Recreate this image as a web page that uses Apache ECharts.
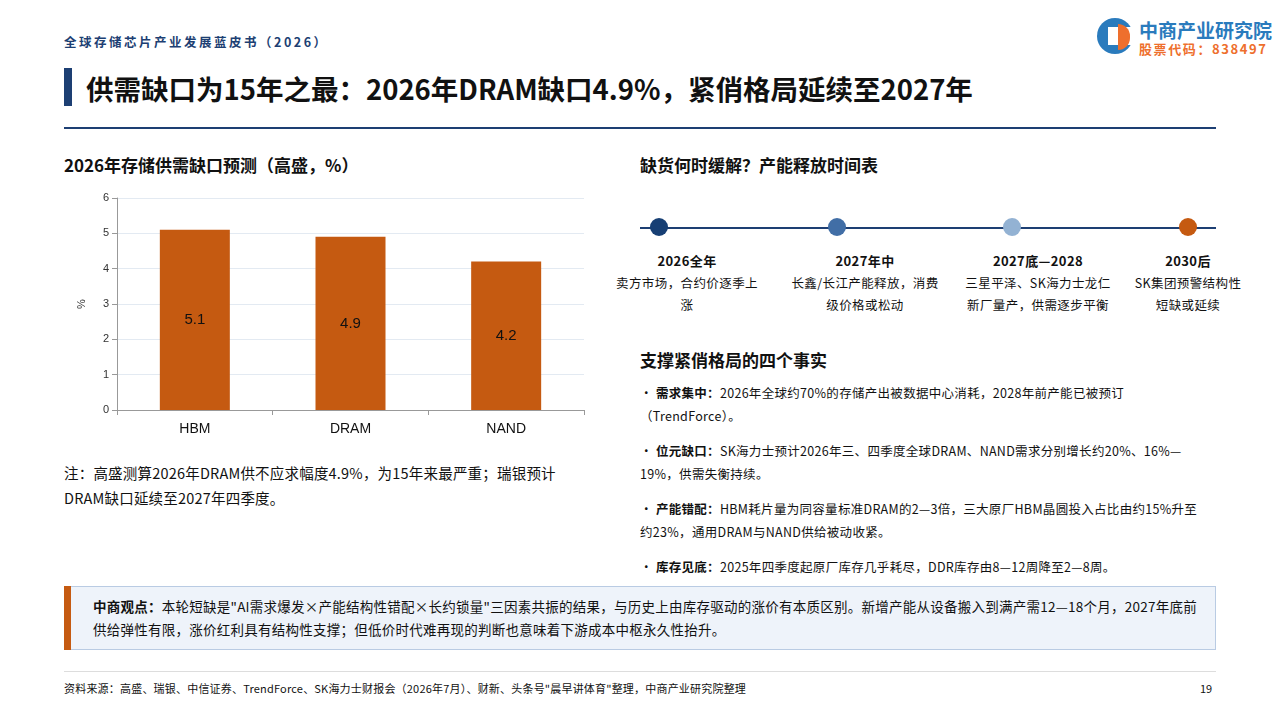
<!DOCTYPE html>
<html><head><meta charset="utf-8">
<script src="https://cdn.jsdelivr.net/npm/echarts@6/dist/echarts.min.js"></script>
<style>
body{margin:0;width:1280px;height:720px;position:relative;background:#fff;font-family:"Noto Sans CJK SC","Noto Sans",sans-serif;color:#111;overflow:hidden}
.abs{position:absolute}
.tl-item{position:absolute;width:160px;text-align:center;font-size:12.5px;line-height:22px;top:250px;letter-spacing:0.4px}
.tl-item b{font-size:13px}
.dot{position:absolute;width:18px;height:18px;border-radius:50%;top:218px}
.fact{font-size:12.5px;line-height:23px;left:640px;width:565px;letter-spacing:0.3px}
</style></head><body>
<div class="abs" style="left:64px;top:32px;font-size:12.5px;font-weight:bold;color:#1d3f73;letter-spacing:2.5px">全球存储芯片产业发展蓝皮书（2026）</div>
<div class="abs" style="left:1097px;top:18px;width:36px;height:36px;border-radius:50%;background:#2a7bbd"></div>
<div class="abs" style="left:1108px;top:27px;width:25px;height:18px;background:#fff"></div>
<div class="abs" style="left:1118px;top:24px;width:12px;height:26px;background:#ee6f2d;border-radius:0 12px 12px 0"></div>
<div class="abs" style="left:1139px;top:16px;font-size:19px;font-weight:bold;color:#2a7bbd">中商产业研究院</div>
<div class="abs" style="left:1139px;top:39px;font-size:13px;font-weight:bold;color:#ee6f2d;letter-spacing:1.6px">股票代码：838497</div>
<div class="abs" style="left:64px;top:68px;width:8px;height:38px;background:#1d3f73"></div>
<div class="abs" style="left:86px;top:68px;font-size:27.5px;font-weight:bold">供需缺口为15年之最：2026年DRAM缺口4.9%，紧俏格局延续至2027年</div>
<div class="abs" style="left:64px;top:127px;width:1152px;height:2px;background:#1d3f73"></div>
<div class="abs" style="left:64px;top:152px;font-size:17px;font-weight:bold">2026年存储供需缺口预测（高盛，%）</div>
<div id="chart" class="abs" style="left:64px;top:185px;width:530px;height:265px"></div>
<div class="abs" style="left:64px;top:460px;width:525px;font-size:14.5px;line-height:25px;letter-spacing:0.2px">注：高盛测算2026年DRAM供不应求幅度4.9%，为15年来最严重；瑞银预计DRAM缺口延续至2027年四季度。</div>

<div class="abs" style="left:640px;top:152px;font-size:17px;font-weight:bold">缺货何时缓解？产能释放时间表</div>
<div class="abs" style="left:640px;top:227px;width:576px;height:2px;background:#1d3f73"></div>
<div class="dot" style="left:650px;background:#173f74"></div>
<div class="dot" style="left:828px;background:#416ea6"></div>
<div class="dot" style="left:1003px;background:#93b2d3"></div>
<div class="dot" style="left:1179px;background:#c55a11"></div>
<div class="tl-item" style="left:607px"><b>2026全年</b><br>卖方市场，合约价逐季上<br>涨</div>
<div class="tl-item" style="left:785px"><b>2027年中</b><br>长鑫/长江产能释放，消费<br>级价格或松动</div>
<div class="tl-item" style="left:958px"><b>2027底—2028</b><br>三星平泽、SK海力士龙仁<br>新厂量产，供需逐步平衡</div>
<div class="tl-item" style="left:1108px;width:160px"><b>2030后</b><br>SK集团预警结构性<br>短缺或延续</div>

<div class="abs" style="left:640px;top:347px;font-size:17px;font-weight:bold">支撑紧俏格局的四个事实</div>
<div class="abs fact" style="top:381px">· <b>需求集中：</b>2026年全球约70%的存储产出被数据中心消耗，2028年前产能已被预订（TrendForce）。</div>
<div class="abs fact" style="top:439px">· <b>位元缺口：</b>SK海力士预计2026年三、四季度全球DRAM、NAND需求分别增长约20%、16%—19%，供需失衡持续。</div>
<div class="abs fact" style="top:497px">· <b>产能错配：</b>HBM耗片量为同容量标准DRAM的2—3倍，三大原厂HBM晶圆投入占比由约15%升至约23%，通用DRAM与NAND供给被动收紧。</div>
<div class="abs fact" style="top:555px">· <b>库存见底：</b>2025年四季度起原厂库存几乎耗尽，DDR库存由8—12周降至2—8周。</div>

<div class="abs" style="left:64px;top:586px;width:1152px;height:64px;background:#eef3fa;border:1px solid #b9cbe3;box-sizing:border-box"></div>
<div class="abs" style="left:64px;top:586px;width:7px;height:64px;background:#c55a11"></div>
<div class="abs" style="left:93px;top:595px;width:1110px;font-size:13.5px;line-height:23px;letter-spacing:0.25px"><b>中商观点：</b>本轮短缺是"AI需求爆发×产能结构性错配×长约锁量"三因素共振的结果，与历史上由库存驱动的涨价有本质区别。新增产能从设备搬入到满产需12—18个月，2027年底前供给弹性有限，涨价红利具有结构性支撑；但低价时代难再现的判断也意味着下游成本中枢永久性抬升。</div>
<div class="abs" style="left:64px;top:671px;width:1152px;height:1px;background:#ddd"></div>
<div class="abs" style="left:64px;top:680px;font-size:11px;letter-spacing:0.2px">资料来源：高盛、瑞银、中信证券、TrendForce、SK海力士财报会（2026年7月）、财新、头条号"晨早讲体育"整理，中商产业研究院整理</div>
<div class="abs" style="left:1200px;top:680px;font-size:11px">19</div>
<script>
var categories = ['HBM', 'DRAM', 'NAND'];
var gapValues = [5.1, 4.9, 4.2];
var chart = echarts.init(document.getElementById('chart'));
chart.setOption({
  animation: false,
  grid: {left: 53, right: 10, top: 13, bottom: 40},
  xAxis: {type: 'category', data: categories,
    axisLine: {lineStyle: {color: '#999'}}, axisTick: {show: true, lineStyle: {color: '#999'}},
    axisLabel: {color: '#111', fontSize: 14, margin: 12}},
  yAxis: {type: 'value', min: 0, max: 6, interval: 1, name: '%', nameLocation: 'middle', nameGap: 30,
    nameTextStyle: {fontSize: 11, color: '#333'},
    axisLine: {show: true, lineStyle: {color: '#999'}}, axisTick: {show: true},
    axisLabel: {color: '#333', fontSize: 11}, splitLine: {lineStyle: {color: '#e3eaf2'}}},
  series: [{type: 'bar', data: gapValues, barWidth: 70, itemStyle: {color: '#c55a11'},
    label: {show: true, position: 'inside', color: '#111', fontSize: 15}}]
});
</script>
</body></html>
